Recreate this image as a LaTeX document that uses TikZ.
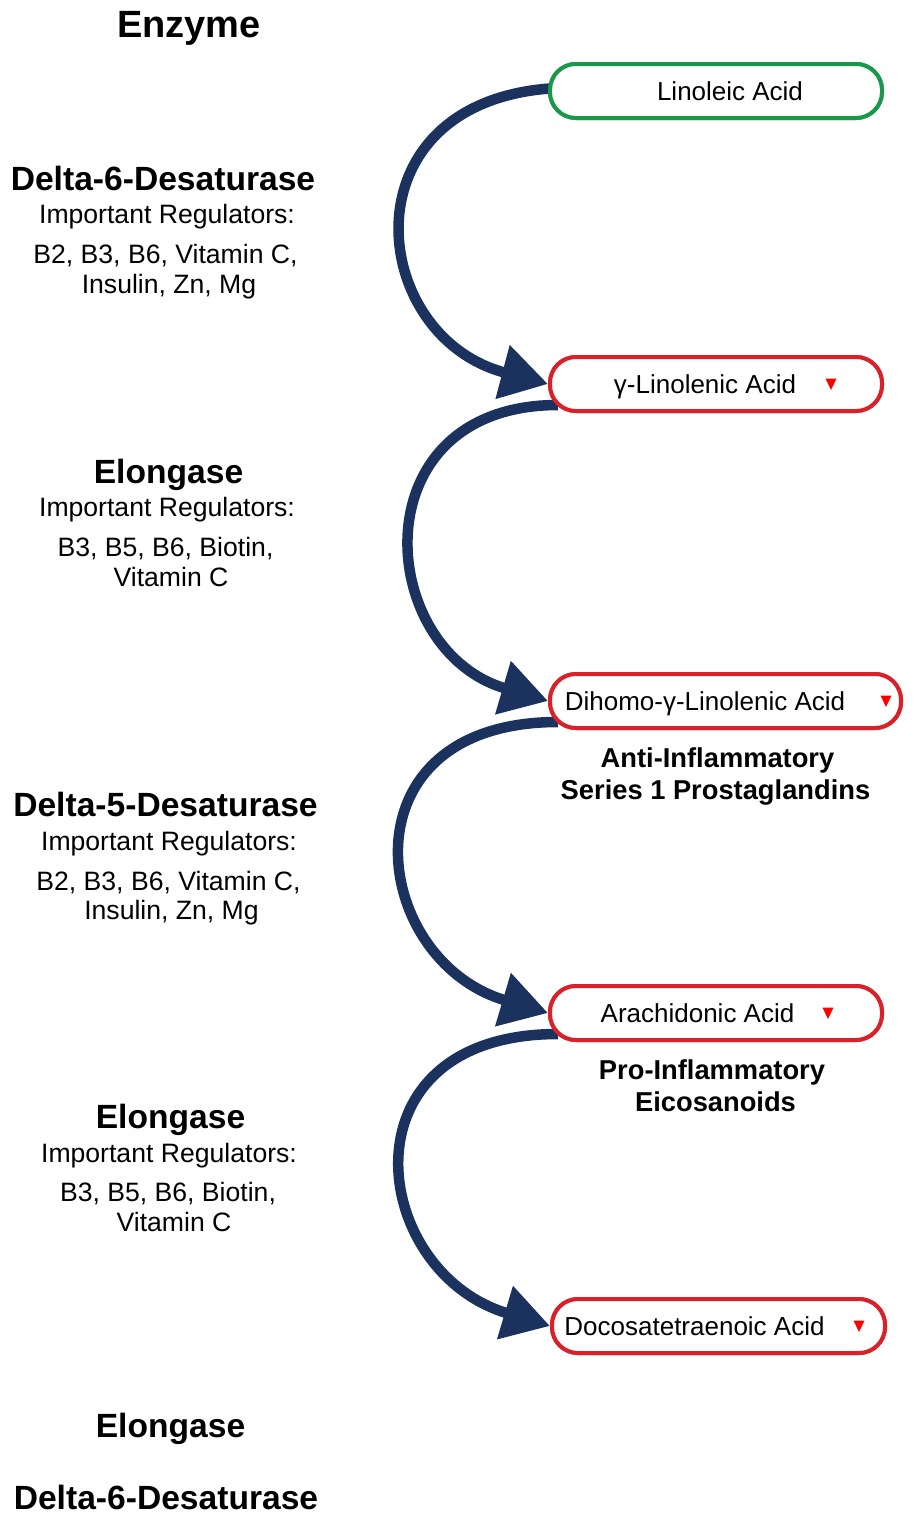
\documentclass[tikz,border=0pt]{standalone}
\usepackage{fontspec}
\setmainfont{Liberation Sans}
\usetikzlibrary{arrows.meta}
\definecolor{navy}{RGB}{27,50,95}
\definecolor{boxgreen}{RGB}{24,152,72}
\definecolor{boxred}{RGB}{218,32,40}
\newcommand\redtri[2]{\fill[red] (#1-5.5,#2-5.5) -- (#1+5.5,#2-5.5) -- (#1,#2+6) -- cycle;}
\begin{document}
\begin{tikzpicture}[x=1pt,y=-1pt,
  acidbox/.style={draw, line width=4pt, rounded corners=26pt, fill=white, minimum height=54pt, inner sep=0pt},
  flow/.style={draw=navy, line width=10.5pt, -{Triangle[length=47pt,width=53pt]}},
  head/.style={font=\fontsize{33.6}{38}\selectfont\bfseries, anchor=base, inner sep=1pt},
  enz/.style={font=\fontsize{38}{42}\selectfont\bfseries, anchor=base, inner sep=1pt},
  reg/.style={font=\fontsize{26.6}{30}\selectfont, anchor=base, inner sep=1pt},
  acid/.style={font=\fontsize{26}{30}\selectfont, anchor=base, inner sep=1pt},
  note/.style={font=\fontsize{27.3}{32}\selectfont\bfseries, anchor=base, inner sep=1pt}]
\useasboundingbox (0,0) rectangle (917,1515);

% boxes (coordinates for connectors)
\node[acidbox, draw=boxgreen, minimum width=332pt] (b1) at (716,91) {};
\node[acidbox, draw=boxred, minimum width=332pt] (b2) at (716,384) {};
\node[acidbox, draw=boxred, minimum width=351pt] (b3) at (725.5,701) {};
\node[acidbox, draw=boxred, minimum width=332pt] (b4) at (716,1013) {};
\node[acidbox, draw=boxred, minimum width=333pt] (b5) at (718.5,1326) {};

% connectors
\draw[flow] ([shift={(10,-3)}]b1.west) .. controls +(-215,10) and +(-182,-48) .. (b2.west);
\draw[flow] ([shift={(10,21)}]b2.west) .. controls +(-200,0) and +(-173,-51) .. (b3.west);
\draw[flow] ([shift={(10,21)}]b3.west) .. controls +(-220,0) and +(-179,-53) .. (b4.west);
\draw[flow] ([shift={(10,21)}]b4.west) .. controls +(-220,0) and +(-181,-54) .. (b5.west);

% redraw boxes on top
\node[acidbox, draw=boxgreen, minimum width=332pt] at (b1) {};
\node[acidbox, draw=boxred, minimum width=332pt] at (b2) {};
\node[acidbox, draw=boxred, minimum width=351pt] at (b3) {};
\node[acidbox, draw=boxred, minimum width=332pt] at (b4) {};
\node[acidbox, draw=boxred, minimum width=333pt] at (b5) {};

% box texts
\node[acid] (t1) at (730,100.5) {Linoleic Acid};
\node[acid] (t2) at (705,393.5) {γ-Linolenic Acid};
\node[acid] (t3) at (705,710.5) {Dihomo-γ-Linolenic Acid};
\node[acid] (t4) at (697.5,1022.5) {Arachidonic Acid};
\node[acid] (t5) at (694.5,1335.5) {Docosatetraenoic Acid};
\redtri{831}{384}
\redtri{886}{701}
\redtri{828}{1013}
\redtri{859}{1326}

% notes
\node[note] (n1) at (717.5,767.5) {Anti-Inflammatory};
\node[note] (n2) at (715.5,799.5) {Series 1 Prostaglandins};
\node[note] (n3) at (712,1079.5) {Pro-Inflammatory};
\node[note] (n4) at (715.5,1111.5) {Eicosanoids};

% enzymes
\node[enz] (e0) at (189,37) {Enzyme};

\node[head] (h1) at (163,190.5) {Delta-6-Desaturase};
\node[reg] (r1a) at (167,223.5) {Important Regulators:};
\node[reg] (r1b) at (165.5,263.5) {B2, B3, B6, Vitamin C,};
\node[reg] (r1c) at (169,293) {Insulin, Zn, Mg};

\node[head] (h2) at (168.5,483.5) {Elongase};
\node[reg] (r2a) at (167,516.5) {Important Regulators:};
\node[reg] (r2b) at (165.5,556.5) {B3, B5, B6, Biotin,};
\node[reg] (r2c) at (171,586) {Vitamin C};

\node[head] (h3) at (165.5,816.5) {Delta-5-Desaturase};
\node[reg] (r3a) at (169,850.5) {Important Regulators:};
\node[reg] (r3b) at (168.5,890.5) {B2, B3, B6, Vitamin C,};
\node[reg] (r3c) at (171.5,919.5) {Insulin, Zn, Mg};

\node[head] (h4) at (170.5,1128.5) {Elongase};
\node[reg] (r4a) at (169,1162.5) {Important Regulators:};
\node[reg] (r4b) at (168,1201.5) {B3, B5, B6, Biotin,};
\node[reg] (r4c) at (174,1231.5) {Vitamin C};

\node[head] (h5) at (170.5,1437.5) {Elongase};
\node[head] (h6) at (166,1509.5) {Delta-6-Desaturase};
\end{tikzpicture}
\end{document}
